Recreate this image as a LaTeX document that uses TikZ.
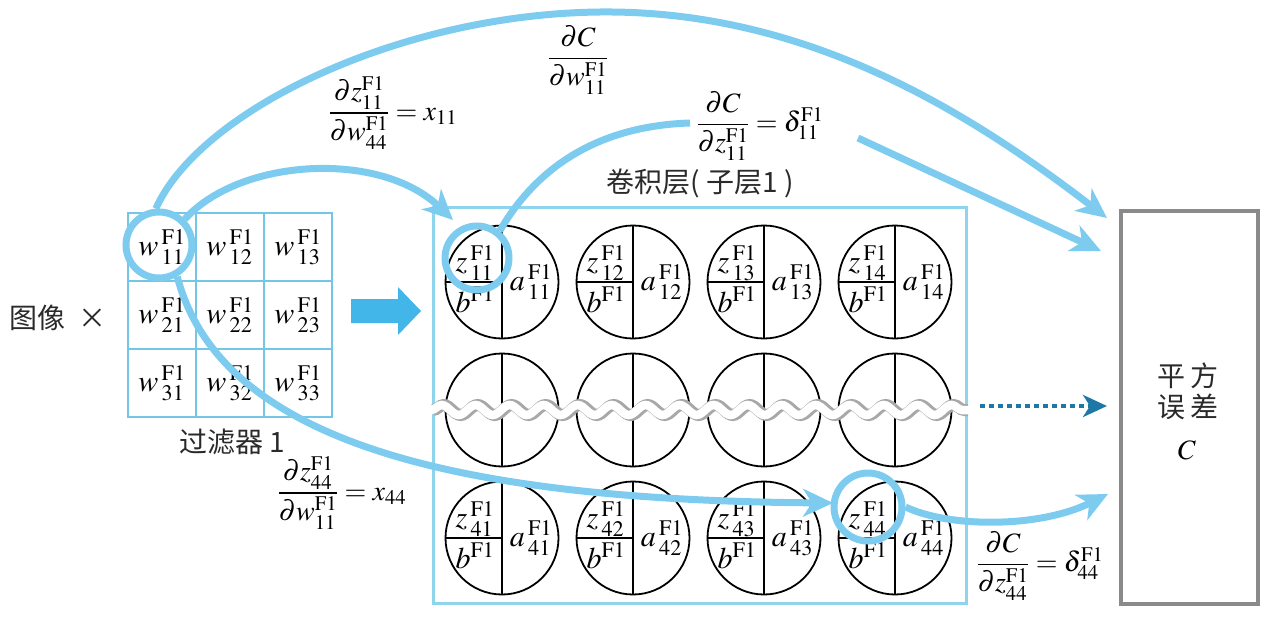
\RequirePackage{fix-cm}
\documentclass[tikz,border=0pt]{standalone}
\usepackage{amsmath}
\usepackage{mathptmx}
\usepackage{fontspec}
\setmainfont{Liberation Serif}
\newfontfamily\cjk{Noto Sans CJK SC}
\usetikzlibrary{arrows.meta,decorations.pathmorphing,calc}
\definecolor{lb}{HTML}{7DCCF0}
\definecolor{gridb}{HTML}{74C6E6}
\definecolor{boxb}{HTML}{8DD4EC}
\definecolor{bigb}{HTML}{42B6E8}
\definecolor{darkb}{HTML}{1E78A5}
\definecolor{boxg}{HTML}{8A8A8A}
\definecolor{wavg}{HTML}{A8A8A8}
\definecolor{txtg}{HTML}{2A2A2A}
\newcommand\mfs{\fontsize{28}{33}\selectfont}
\newcommand\cfs{\fontsize{30}{35}\selectfont}
\newcommand\F{\mathrm{F1}}
\newcommand\sv[3]{#1\,{}^{\F}_{#2#3}}
\begin{document}
\begin{tikzpicture}[x=1pt,y=-1pt,
  cellc/.style={circle,draw=black,line width=1.8pt,minimum size=113pt,inner sep=0pt},
  inl/.style={draw=black,line width=1.8pt},
  fcell/.style={rectangle,draw=gridb,line width=2.5pt,minimum size=68pt,inner sep=0pt,font=\cfs},
  hl/.style={circle,draw=lb,line width=7pt,inner sep=0pt},
  bl/.style={draw=lb,line width=7pt},
  arr/.style={bl,-{Stealth[length=30pt,width=28pt,inset=9pt]}},
  lab/.style={font=\mfs,inner sep=0pt},
  ctext/.style={font=\cjk\fontsize{28}{33}\selectfont,text=txtg,inner sep=0pt},
  ctx/.style={font=\cfs,inner sep=0pt}]
\useasboundingbox (0,0) rectangle (1268,618);

% filter grid
\foreach \r/\y in {1/247,2/315,3/383}{
  \foreach \c/\x in {1/162,2/230,3/298}{
    \node[fcell] (f\r\c) at (\x,\y) {$\sv{w}{\r}{\c}$};
  }
}
\node[ctext] (img) at (58,318) {图像\ \ ×};
\node[ctext] (filt) at (232,442) {过滤器 1};

% big arrow
\node (bigarr) at (386,311) {};
\fill[bigb] (351,299) -- (398,299) -- (398,287) -- (421,311) -- (398,335) -- (398,323) -- (351,323) -- cycle;

% conv box
\node[draw=boxb,line width=3pt,minimum width=533pt,minimum height=396pt,inner sep=0pt] (conv) at (699.5,405) {};
\node[ctext] (convl) at (700,183) {卷积层( 子层1 )};

% cells
\foreach \j/\x in {1/502,2/633,3/764,4/895}{
  \foreach \r/\y in {1/282,2/410,3/538}{
    \node[cellc] (c\r\j) at (\x,\y) {};
    \draw[inl] (c\r\j.north) -- (c\r\j.south);
    \draw[inl] (c\r\j.west) -- (c\r\j.center);
  }
  \node[ctx] at (\x-27,263) {$\sv{z}{1}{\j}$};
  \node[ctx] at (\x-27,300) {$b^{\F}$};
  \node[ctx] at (\x+29,282) {$\sv{a}{1}{\j}$};
  \node[ctx] at (\x-27,519) {$\sv{z}{4}{\j}$};
  \node[ctx] at (\x-27,556) {$b^{\F}$};
  \node[ctx] at (\x+29,538) {$\sv{a}{4}{\j}$};
}

% wavy band
\draw[decorate,decoration={snake,segment length=34pt,amplitude=5pt},line width=12pt,draw=wavg] (433,410) -- (968,410);
\draw[decorate,decoration={snake,segment length=34pt,amplitude=5pt},line width=8.5pt,draw=white] (431,410) -- (970,410);

% right box
\node[draw=boxg,line width=3.5pt,minimum width=137pt,minimum height=393pt,inner sep=0pt] (cost) at (1189.5,407.5) {};
\node[ctext,align=center] (costl) at (1188,391) {平\,方\\[-2pt]误\,差};
\node[lab] (costc) at (1187,450) {$C$};

% dotted arrow
\coordinate (d1) at (980,406);
\coordinate (d2) at (1107,406);
\draw[darkb,line width=4.5pt,dash pattern=on 5pt off 4pt,-{Stealth[length=24pt,width=22pt,inset=7pt]}] (d1) -- (d2);

% labels
\node[lab] (L1) at (578,60) {$\dfrac{\partial C}{\partial w^{\F}_{11}}$};
\node[lab] (L2) at (393,113) {$\dfrac{\partial z^{\F}_{11}}{\partial w^{\F}_{44}}=x_{11}$};
\node[lab] (L3) at (760,126) {$\dfrac{\partial C}{\partial z^{\F}_{11}}=\delta^{\F}_{11}$};
\node[lab] (L4) at (342,493) {$\dfrac{\partial z^{\F}_{44}}{\partial w^{\F}_{11}}=x_{44}$};
\node[lab] (L5) at (1040,566) {$\dfrac{\partial C}{\partial z^{\F}_{44}}=\delta^{\F}_{44}$};

% highlight circles
\node[hl,minimum size=66pt] (hw) at (159,245) {};
\node[hl,minimum size=64pt] (hz1) at (477,258) {};
\node[hl,minimum size=68pt] (hz4) at (868,507) {};

% connectors
\coordinate (t1) at (1107,218);
\coordinate (t2) at (1101,251);
\coordinate (s2) at (858,138);
\coordinate (t3) at (453,220);
\coordinate (e4) at (690,123);
\coordinate (t5) at (833,503);
\coordinate (t6) at (1108,494);
\draw[arr] (hw.95) .. controls (200,110) and (400,14) .. (600,12) .. controls (800,10) and (960,105) .. (t1);
\draw[arr] (s2) -- (t2);
\draw[arr] (hw.45) .. controls (240,158) and (380,150) .. (t3);
\draw[bl] (hz1.50) .. controls (535,170) and (595,126) .. (e4);
\draw[arr] (hw.-60) .. controls (220,440) and (450,500) .. (t5);
\draw[arr] (hz4.east) .. controls (950,528) and (1040,528) .. (t6);
\end{tikzpicture}
\end{document}
